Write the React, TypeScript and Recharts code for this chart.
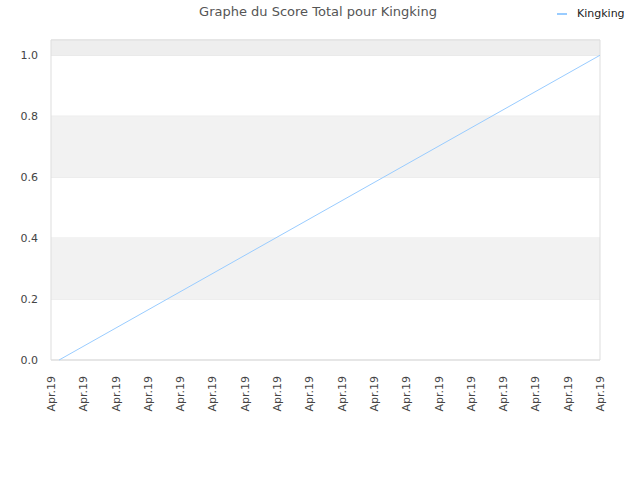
import React from "react";
import { LineChart, Line, XAxis, YAxis, CartesianGrid, ReferenceArea } from "recharts";

const seriesName = "Kingking";
const xPositions = [0.25, 17];
const scores = [0, 1];
const xTicks = [0, 1, 2, 3, 4, 5, 6, 7, 8, 9, 10, 11, 12, 13, 14, 15, 16, 17];
const xTickLabel = "Apr.19";
const yTicks = [0, 0.2, 0.4, 0.6, 0.8, 1.0];
const grayBands: [number, number][] = [[0.2, 0.4], [0.6, 0.8], [1.0, 1.05]];

const data = xPositions.map((x, i) => ({ x, score: scores[i] }));

const FONT = "DejaVu Sans, sans-serif";
const LINE_COLOR = "#99ccff";

function XTick(props: any) {
  const { x, y } = props;
  return (
    <text
      x={0}
      y={0}
      transform={`translate(${x + 4},${y + 8}) rotate(-90)`}
      textAnchor="end"
      fontSize={11}
      fill="#444"
      fontFamily={FONT}
    >
      {xTickLabel}
    </text>
  );
}

export default function App() {
  return (
    <div style={{ position: "absolute", left: 0, top: 0, width: 640, height: 480, background: "#fff" }}>
      <div
        style={{
          position: "absolute",
          top: 4,
          width: 636,
          textAlign: "center",
          fontFamily: FONT,
          fontSize: 13,
          color: "#555",
        }}
      >
        Graphe du Score Total pour Kingking
      </div>
      <div
        style={{
          position: "absolute",
          top: 7,
          left: 557,
          display: "flex",
          alignItems: "center",
          fontFamily: FONT,
          fontSize: 11,
          color: "#222",
        }}
      >
        <span style={{ display: "inline-block", width: 10, height: 2, background: LINE_COLOR, marginRight: 10 }} />
        {seriesName}
      </div>
      <LineChart width={640} height={480} data={data} margin={{ top: 40, right: 40, left: 0, bottom: 0 }}>
        {grayBands.map(([a, b], i) => (
          <ReferenceArea
            key={i}
            y1={a}
            y2={b}
            fill={b > 1 ? "#eeeeee" : "#f2f2f2"}
            fillOpacity={1}
            stroke="none"
            ifOverflow="extendDomain"
          />
        ))}
        <CartesianGrid vertical={false} stroke="#e0e0e0" strokeDasharray="" />
        <ReferenceArea x1={0} x2={17} y1={0} y2={1.05} fill="none" stroke="#dddddd" strokeWidth={1} />
        <XAxis
          dataKey="x"
          type="number"
          domain={[0, 17]}
          ticks={xTicks}
          interval={0}
          tick={<XTick />}
          tickLine={false}
          axisLine={false}
          height={120}
        />
        <YAxis
          type="number"
          domain={[0, 1.05]}
          ticks={yTicks}
          width={51}
          tickLine={false}
          axisLine={false}
          tickSize={0}
          tickMargin={13}
          tickFormatter={(v: number) => v.toFixed(1)}
          tick={{ fontSize: 11, fill: "#444", fontFamily: FONT }}
        />
        <Line
          type="linear"
          dataKey="score"
          name={seriesName}
          stroke={LINE_COLOR}
          strokeWidth={1}
          dot={false}
          isAnimationActive={false}
        />
      </LineChart>
    </div>
  );
}
